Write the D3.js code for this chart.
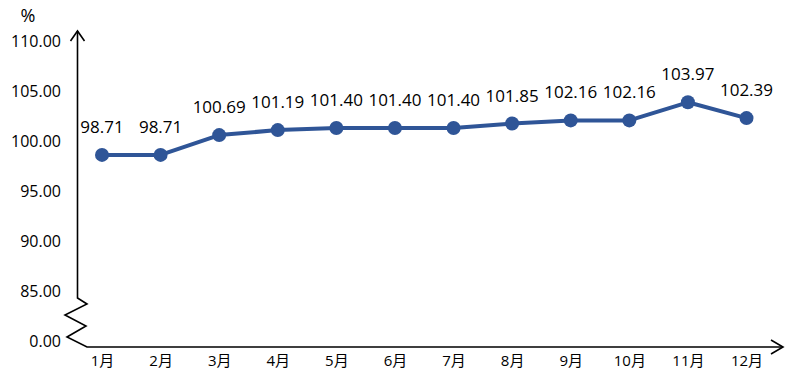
<!DOCTYPE html>
<html>
<head>
<meta charset="utf-8">
<script src="https://cdn.jsdelivr.net/npm/d3@7"></script>
<style>
  body { margin: 0; background: #fff; }
  svg text { font-family: "Open Sans", "Noto Sans CJK SC", sans-serif; fill: #000; }
</style>
</head>
<body>
<svg id="chart" width="798" height="385"></svg>
<script>
// data
var months = ["1月", "2月", "3月", "4月", "5月", "6月", "7月", "8月", "9月", "10月", "11月", "12月"];
var values = [98.71, 98.71, 100.69, 101.19, 101.40, 101.40, 101.40, 101.85, 102.16, 102.16, 103.97, 102.39];
var yTicks = [80, 85, 90, 95, 100, 105, 110];
var yTickLabels = ["0.00", "85.00", "90.00", "95.00", "100.00", "105.00", "110.00"];

var svg = d3.select("#chart");
var lineColor = "#2f5597";
var axisX = 77.5;

var x = d3.scalePoint().domain(months).range([102, 746.5]);
var y = d3.scaleLinear().domain([80, 110]).range([342, 42]);

// y tick labels
var yAxis = d3.axisLeft(y)
    .tickValues(yTicks)
    .tickSize(0)
    .tickPadding(0)
    .tickFormat(function (d, i) { return yTickLabels[i]; });
var gy = svg.append("g").attr("transform", "translate(61,-1)").call(yAxis);
gy.select(".domain").remove();
gy.selectAll("text").style("font-size", "16px").attr("dy", "0.35em");

// "%" unit
svg.append("text").attr("x", 28).attr("y", 22).attr("text-anchor", "middle")
    .style("font-size", "18px").text("%");

// x tick labels
var xAxis = d3.axisBottom(x).tickSize(0).tickPadding(0);
var gx = svg.append("g").attr("transform", "translate(0,352)").call(xAxis);
gx.select(".domain").remove();
gx.selectAll("text").style("font-size", "15px").attr("dy", "0.95em");

// axes with break
var axisY = 347;
var breakTop = 298;
var axisPath = [
    [axisX, 31], [axisX, breakTop],
    [87, 304], [65, 315], [86, 326], [67, 337], [87, axisY],
    [783, axisY]
];
svg.append("path")
    .attr("d", d3.line()(axisPath))
    .attr("fill", "none").attr("stroke", "#000").attr("stroke-width", 1.6);
// arrow heads
svg.append("path")
    .attr("d", d3.line()([[axisX - 7, 41], [axisX, 31], [axisX + 7, 41]]))
    .attr("fill", "none").attr("stroke", "#000").attr("stroke-width", 1.6);
svg.append("path")
    .attr("d", d3.line()([[771, axisY - 7], [783, axisY], [771, axisY + 7]]))
    .attr("fill", "none").attr("stroke", "#000").attr("stroke-width", 1.6);

// line
var line = d3.line()
    .x(function (d, i) { return x(months[i]); })
    .y(function (d) { return y(d); });
svg.append("path")
    .datum(values)
    .attr("d", line)
    .attr("fill", "none")
    .attr("stroke", lineColor)
    .attr("stroke-width", 4)
    .attr("stroke-linejoin", "round");

svg.selectAll("circle.pt")
    .data(values)
    .enter().append("circle").attr("class", "pt")
    .attr("cx", function (d, i) { return x(months[i]); })
    .attr("cy", function (d) { return y(d); })
    .attr("r", 7)
    .attr("fill", lineColor);

// value labels
svg.selectAll("text.val")
    .data(values)
    .enter().append("text").attr("class", "val")
    .attr("x", function (d, i) { return x(months[i]); })
    .attr("y", function (d) { return y(d) - 22; })
    .attr("text-anchor", "middle")
    .style("font-size", "17px")
    .text(function (d) { return d.toFixed(2); });
</script>
</body>
</html>
